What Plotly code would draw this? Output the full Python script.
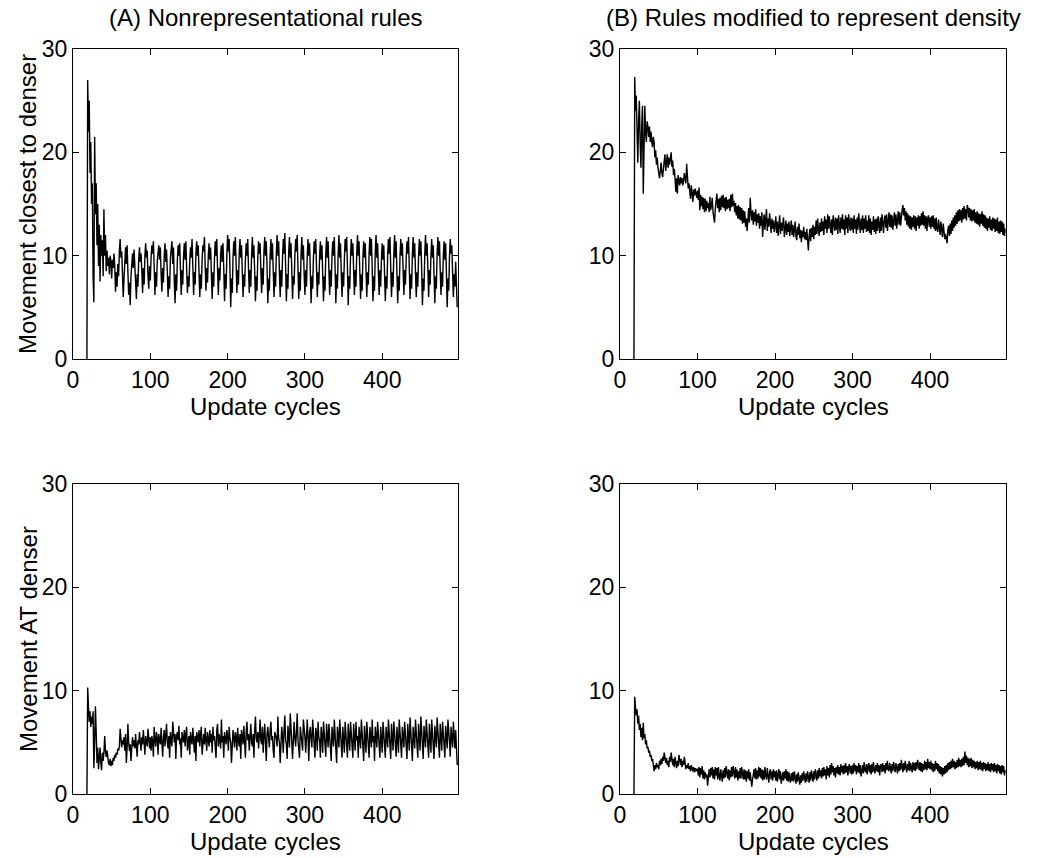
import plotly.graph_objects as go

# ---------------- data (one value per update cycle, from cycle 18) ----------------
cycles = list(range(18, 498))

closest_nonrep = [
    0, 27,
    22, 25, 18, 21, 15, 17, 8, 5.5, 21.5, 14, 17, 11, 15, 9, 13, 7.5, 12, 10, 11.5, 8,
    14.5, 10, 12, 8.5, 10.5, 9, 9.8, 8.2, 10, 9.5, 7.8, 9.6, 8.8, 10.2, 9, 6.5, 8.4, 7, 9.2, 8,
    10.5, 11.6, 9.8, 10.4, 8.2, 6, 7.8, 9.5, 10.8, 9.2, 11, 8.5, 6.2, 7.4, 5.2, 8, 9.6, 10.2, 8.8, 10.6,
    9, 7.5, 5.8, 8.2, 7, 9.6, 10.8, 9.4, 10.2, 8.6, 6.4, 8.8, 7.2, 10, 11.2, 9.8, 10.5, 8, 6.8, 9,
    7.6, 9.8, 11, 10.2, 11.4, 9, 6.2, 8.4, 7, 9.5, 10.4, 11, 9.6, 10.8, 8.2, 6.5, 8.8, 7.4, 10, 11.2,
    9.4, 10.6, 8.4, 6, 8, 6.8, 9.8, 10.6, 11.4, 9.2, 10.8, 7.6, 5.4, 8.2, 6.6, 9.6, 11, 10, 11.2, 8.6,
    6.2, 8.6, 7.2, 10, 11.2, 9.6, 11.4, 8.8, 6.4, 8, 7, 9.4, 10.8, 9.8, 11.6, 9, 6.2, 8.4, 7.2, 10.2,
    11.4, 10, 11, 8.4, 6, 8.2, 6.8, 9.6, 11, 10.4, 11.8, 9, 6.6, 8.8, 7.4, 10, 11.2, 9.6, 10.8, 8.2,
    5.8, 8.4, 7, 9.8, 11.4, 10, 11.6, 8.6, 6.2, 8.8, 7.6, 10.2, 11, 9.4, 11.2, 8.8, 5.6, 8.2, 6.8, 10,
    12, 10.4, 11.6, 8.8, 5, 7.8, 6.4, 9.8, 11.4, 10, 11.8, 9.2, 6.4, 8.6, 7.2, 10.2, 11.6, 9.8, 11, 8.4,
    6, 8.2, 7, 9.6, 11.2, 10, 11.6, 8.8, 6.4, 8.6, 7, 10, 11.8, 9.8, 11, 8.4, 5.6, 8, 6.6, 9.8,
    11.4, 10.2, 11.2, 8.6, 6.4, 8.8, 7.2, 10.4, 11.8, 10, 11.4, 8.8, 5.4, 7.8, 6.6, 10, 11.6, 9.6, 11.2, 8.6,
    6, 8.4, 7, 10.2, 12, 10, 11.4, 8.4, 6, 8.6, 7, 9.8, 11.6, 10.2, 12.2, 9, 5.6, 8.2, 6.8, 10.4,
    11.8, 9.8, 11.2, 8.6, 5.8, 8, 7.2, 10, 11.6, 10.4, 12, 8.8, 5.8, 8.4, 6.6, 10.2, 11.8, 9.6, 11, 8.2,
    6.2, 8.6, 7, 10, 11.6, 10, 11.2, 8.4, 5.4, 8, 6.8, 9.8, 11.4, 10.2, 11.6, 8.8, 6, 8.4, 7.2, 10,
    11.4, 9.6, 11, 8.2, 5.6, 8, 6.6, 10.2, 11.8, 9.8, 11.4, 8.6, 6.2, 8.6, 7, 10, 11.4, 10, 11.8, 8.8,
    5.4, 8.2, 6.8, 10.2, 12, 9.8, 11.2, 8.4, 6, 8.4, 7, 9.6, 11.6, 10.4, 11.8, 8.8, 5.2, 8, 6.8, 10,
    11.6, 10, 11.2, 8.6, 6.2, 8.6, 7, 10.2, 12, 10, 11.4, 8.4, 5.8, 8.2, 6.6, 9.8, 11.4, 9.8, 11.2, 8.6,
    6, 8.4, 7.2, 10.2, 11.8, 10, 11.6, 8.8, 5.6, 8, 6.6, 10.4, 12, 9.8, 11.2, 8.4, 6.2, 8.6, 7, 9.8,
    11.2, 9.6, 11, 8.2, 5.6, 8, 6.8, 10, 11.6, 10.2, 11.8, 8.8, 6, 8.4, 7, 10.2, 12, 9.8, 11.4, 8.4,
    5.4, 8, 6.6, 10, 11.6, 10, 11.2, 8.6, 6.2, 8.6, 7.2, 9.8, 11.4, 10.2, 11.8, 8.8, 5.8, 8.2, 6.8, 10.2,
    11.8, 9.8, 11.2, 8.4, 6, 8.4, 7, 10, 11.6, 10, 11.4, 8.6, 5.2, 7.8, 6.6, 10.2, 12, 10, 11.2, 8.8,
    6, 8.6, 7.2, 10, 11.6, 9.8, 11, 8.2, 5.4, 8, 6.8, 10.2, 11.8, 10, 11.4, 8.6, 6.2, 8.4, 7, 10,
    11.4, 9.6, 11.2, 8.4, 5, 7.8, 6.6, 10, 11.6, 10.2, 11, 8.4, 6, 8.2, 7, 9.4, 6.5, 5,
]

at_nonrep = [
    0, 10.3,
    8.5, 7, 8, 6.5, 7.5, 6.8, 8, 2.5, 5, 8.5, 6, 3, 4.5, 2.4, 3.5, 4.5, 3, 2.3, 4, 3.2,
    4, 5.6, 4.2, 3.6, 4.2, 3.2, 3, 2.8, 3.4, 2.7, 3.2, 2.8, 3.5, 3.2, 3.8, 3.5, 4, 3.8, 4.4, 4.2,
    4.6, 6.3, 5, 4.5, 5.2, 4.8, 5.5, 4.2, 5.8, 3, 4.5, 6.8, 5, 4.2, 4.8, 3.2, 4.4, 5.5, 4.6, 5.2,
    4.4, 5.8, 4.6, 3.6, 5.2, 4.8, 6, 5, 4.2, 5.5, 4.8, 6.2, 4.4, 3.8, 5.6, 5, 4.6, 6.3, 5.2, 4.4,
    5.5, 4.2, 5.6, 5, 3.6, 6.5, 5.2, 4.6, 6, 5.4, 3.8, 5.8, 5.2, 4.8, 6.4, 5, 3.6, 5.4, 6.2, 4.6,
    5.8, 6.8, 5, 4.4, 5.6, 3.5, 6, 5.2, 4.6, 7, 5.4, 5, 5.8, 3.4, 5.6, 6, 5.2, 6.6, 4.8, 5.4,
    3.5, 6, 5.4, 5, 6.2, 4.6, 5.8, 6.5, 4.2, 5.4, 5.6, 3.8, 6, 5.2, 4.8, 6.4, 5.2, 4, 5.6, 3.2,
    6, 5.4, 5, 6.2, 4.6, 5.8, 6.5, 3.8, 5.4, 5.8, 4.8, 6.4, 5.2, 4.2, 6, 5.4, 4.6, 6.2, 5, 5.8,
    4, 6.5, 5.2, 5.6, 4.8, 3.5, 6.2, 6.8, 4.6, 5.8, 5.2, 4.4, 7.2, 5, 5.6, 3.5, 6, 5.4, 4.8, 6.2,
    5.6, 4.2, 6.5, 5.4, 5, 3, 5.8, 6.2, 5.4, 4.5, 6, 5.5, 4.2, 6.4, 5.2, 4.6, 5.8, 3.4, 6.2, 5.6,
    4.8, 6.6, 5.4, 3.5, 6, 7, 5.2, 5.8, 4.2, 5.6, 6.8, 5, 4.6, 5.8, 3.5, 6.2, 7.5, 5.4, 5, 6,
    4.4, 5.6, 7.2, 5.2, 4.8, 6.5, 4, 5.6, 6.8, 5, 3.2, 5.8, 6.5, 5.4, 4.5, 6.2, 7, 5.2, 5.6, 4.2,
    3.5, 6, 5.8, 5.4, 4.6, 7.5, 5.4, 5, 3, 5.8, 6.5, 5.6, 4, 6.2, 7.6, 5.2, 4.8, 3.4, 6.6, 5.6,
    4.5, 7.8, 5.6, 5, 3.4, 6.2, 7, 5.4, 4.6, 6, 7.8, 5.2, 4.4, 3.5, 6.5, 5.8, 5, 4.2, 7.2, 5.6,
    5.5, 4, 6.8, 7.2, 5.4, 3.2, 6, 6.5, 5.2, 4.5, 7.2, 5.6, 5, 3.5, 6.4, 5.8, 4.2, 7, 5.4, 5.2,
    3.5, 6.5, 5.6, 4, 7, 6, 5.2, 3.6, 6.8, 5.6, 4.5, 6.8, 5.2, 5, 3.2, 6.5, 5.6, 4.6, 7.2, 5.4,
    5, 3, 6.5, 5.8, 4.5, 7.2, 5.6, 5, 3.5, 6.5, 5.4, 4, 7, 5.6, 5.2, 3.5, 6.8, 5.4, 4.2, 7,
    5.4, 5, 3.5, 6.8, 5.6, 4.2, 7, 5.2, 5.6, 3.5, 6.5, 5.4, 4.4, 7.2, 5.4, 5, 3.2, 6.6, 5.6, 4,
    7, 5.6, 5.2, 3.5, 6.5, 5.4, 4.5, 7.2, 5, 5.6, 3.2, 6.5, 5.6, 4.5, 7, 5.4, 5, 3.5, 6.5, 5.2,
    4, 7, 5.6, 5.2, 3.5, 6.5, 5.4, 4.5, 7.2, 5.4, 5, 3.4, 6.8, 5.6, 4.2, 7, 5.5, 5.2, 3.6, 6.5,
    5.4, 4, 7.2, 5.5, 5, 3.5, 6.5, 5.6, 4.5, 7, 5.4, 5.2, 3.4, 6.8, 5.5, 4.2, 7.4, 5.6, 5, 3.2,
    6.5, 5.6, 4.4, 7.2, 5.5, 5, 3.5, 6.8, 5.4, 4.2, 7.5, 5.6, 5.2, 3.4, 6.6, 5.5, 4.5, 7.2, 5.4, 5,
    3.5, 6.8, 5.6, 4, 7.2, 5.5, 5, 3.4, 6.6, 5.4, 4.5, 7.4, 5.6, 5.2, 3.5, 6.8, 5.4, 4.2, 7, 5.5,
    5.2, 3.5, 6.6, 5.6, 4.4, 7.2, 5.4, 5, 3.6, 6.5, 5.5, 4.5, 7, 5.2, 4.4, 6.2, 3.5, 2.8,
]

closest_density = [
    0, 27.3,
    24, 25.5, 22, 19, 23, 25, 21, 18.5, 22.5, 24.5, 16, 21, 24.5, 22, 21, 23, 22.5, 21.5, 22.5, 21,
    22, 21, 20.5, 21.5, 21, 19.5, 20.2, 18.8, 19.5, 18.5, 18, 17.5, 18.2, 19, 18, 17.6, 18.4, 19.5, 19.8, 18.2,
    19, 19.8, 18.5, 19.5, 18.8, 19.5, 20, 18.6, 19.2, 17.8, 18.4, 17.5, 16.2, 17.5, 16, 17.8, 17.2, 16.8, 17.6, 17,
    17.5, 16.8, 17.2, 18, 17.4, 17, 18.9, 17.2, 16.5, 17, 16.2, 15.5, 16.8, 16, 15.2, 16.4, 15.8, 16.5, 16, 15.6,
    16.3, 15.4, 16.6, 14.4, 15.9, 14.8, 15.7, 14.5, 15.6, 14.2, 15.5, 14.3, 15.3, 14.6, 15.1, 14.2, 15.7, 14.4, 14.9, 15.6,
    14.2, 13.4, 13.2, 14.6, 15.3, 16, 14.6, 15.5, 14.2, 15.6, 14.4, 15.8, 14.7, 15.9, 14.6, 15.6, 14.3, 15.7, 14.5, 15.4,
    14.6, 15.5, 14.3, 15.9, 14.7, 16, 14.8, 15.3, 14.2, 15.1, 13.9, 14.8, 13.6, 14.9, 13.5, 14.7, 13.4, 14.6, 13.1, 14.4,
    13.2, 14.3, 12.8, 13.6, 12.4, 13.7, 14.6, 13.2, 15.6, 14.2, 13.4, 14.4, 13, 14.2, 13.3, 14.5, 12.9, 14, 13.2, 14.1,
    12.6, 13.8, 12.9, 14.2, 11.8, 13.2, 14, 12.5, 13.5, 14.5, 12.4, 13.6, 12.8, 14.1, 13.2, 12.2, 13.6, 12.6, 13.4, 12.3,
    12.9, 13.8, 12.2, 13.3, 11.9, 13, 13.9, 12.1, 13.2, 12.4, 13, 13.7, 11.8, 12.7, 13.4, 12, 13.1, 12.3, 13.3, 11.9,
    12.6, 13.4, 12, 13, 11.8, 12.6, 13.3, 11.9, 11.5, 12.8, 12, 13.1, 11.7, 12.5, 11.3, 12.4, 11.8, 12.8, 11.6, 12.3,
    11.5, 12.6, 11.2, 10.5, 11.9, 12.6, 11.4, 12.7, 11.8, 13, 11.6, 12.8, 12, 13.4, 12.1, 13.6, 12.5, 11.9, 13.2, 12.3,
    13.6, 12.4, 13.3, 12, 13.8, 12.6, 13.5, 12.2, 14, 12.6, 13.8, 12.8, 12.2, 13.5, 12, 13.9, 12.8, 12.4, 13.7, 12.5,
    13.6, 12.1, 13.9, 12.8, 12.2, 13.7, 12.6, 14, 12.5, 13.5, 12, 13.9, 12.6, 13.7, 12.2, 14, 12.8, 12.4, 13.7, 12.5,
    13.6, 12.2, 13.9, 12.6, 13.5, 12.1, 13.7, 12.5, 14.1, 12.8, 12.2, 13.6, 12.5, 13.9, 12.2, 13.6, 12.6, 13.9, 12.3, 13.4,
    12.4, 13.9, 12.2, 13.6, 12, 13.3, 12.5, 13.8, 12.3, 13.5, 12.1, 13.6, 12.4, 13.8, 12.8, 12.2, 13.7, 12.4, 14, 12.7,
    12.2, 13.6, 13.9, 12.7, 14, 12.4, 13.8, 14.2, 12.8, 14, 12.7, 13.9, 12.5, 13.8, 14.2, 12.9, 14, 12.6, 13.8, 14.3,
    13, 14.2, 12.9, 14, 14.4, 14.9, 13.9, 14.6, 13.4, 14.3, 13, 14.1, 12.8, 13.9, 12.6, 13.8, 12.5, 13.7, 12.8, 13.9,
    12.6, 13.8, 12.4, 13.7, 12.9, 13.9, 12.6, 13.8, 12.9, 14.1, 13, 14.3, 12.9, 13.9, 12.6, 13.8, 12.4, 13.6, 13.9, 12.8,
    13.7, 12.6, 13.8, 12.8, 13.9, 12.6, 13.6, 12.4, 13.7, 12.6, 12.3, 13.5, 12.4, 12, 13.3, 12.2, 11.8, 13.1, 12, 11.6,
    12.1, 11.4, 11.2, 12.5, 12.9, 11.9, 13.1, 12.1, 13.4, 12.4, 13.7, 12.7, 13.9, 12.9, 14.2, 13.1, 14.4, 13.3, 14.5, 13.4,
    14.4, 13.2, 14.6, 13.5, 14.8, 13.6, 14.5, 13.4, 14.9, 14.6, 13.7, 14.6, 13.4, 14.5, 13.3, 14.4, 13.4, 14.5, 13.2, 14.2,
    13.1, 14.3, 13, 14.1, 12.8, 14, 13.1, 14.3, 12.9, 14, 12.7, 13.9, 12.6, 13.7, 12.4, 13.6, 12.7, 13.8, 12.5, 13.5,
    12.4, 13.7, 12.6, 13.6, 12.3, 13.5, 12.4, 13.7, 12.2, 13.3, 12.1, 13.4, 12.3, 13.3, 12, 13.1, 11.9, 12.6,
]

at_density = [
    0, 9.4,
    8.4, 7.6, 8.2, 6.8, 7.6, 6.2, 6.8, 5.5, 6.4, 5.2, 6.9, 5.4, 5.8, 4.8, 5.2, 4.4, 4.6, 4, 4.2, 3.6,
    3.8, 3.2, 3.4, 2.6, 2.2, 2.8, 2.4, 3, 2.6, 2.8, 2.4, 3.2, 2.8, 3.4, 2.9, 3.6, 3.2, 4, 3.3, 3,
    3.5, 2.8, 3.2, 2.6, 3.6, 3.1, 4, 3.2, 2.8, 3.4, 2.6, 3.6, 3, 2.5, 3.2, 2.7, 3.8, 3.2, 2.8, 3.4,
    2.6, 3.2, 2.8, 3.6, 2.9, 2.4, 2.8, 2.5, 3, 2.4, 2.7, 2.2, 2.8, 2.5, 2.2, 2.6, 2.1, 2.5, 2.2, 2.4,
    2.4, 1.8, 2.6, 1.6, 2.5, 1.9, 2.7, 1.5, 2.3, 1.4, 2.1, 1.6, 1.9, 0.8, 1.5, 2.4, 1.6, 2.5, 1.8, 2.6,
    1.5, 2.4, 1.4, 2.6, 1.8, 2.5, 1.4, 2.6, 1.7, 1.3, 2.4, 1.6, 1.2, 2.3, 1.5, 2.5, 1.6, 2.7, 1.8, 1.5,
    2.4, 1.3, 2.3, 1.6, 2.6, 1.7, 2.7, 1.8, 1.5, 2.6, 1.6, 2.4, 1.3, 2.2, 1.5, 2.5, 1.5, 2.6, 1.8, 1.4,
    2.4, 1.4, 2.3, 1.2, 2.2, 1.5, 2.4, 1.3, 2.1, 1.0, 0.7, 1.4, 2.1, 2.4, 1.5, 2.5, 1.4, 2.3, 1.5, 2.6,
    1.7, 2.5, 1.5, 2.4, 1.3, 2.3, 1.4, 2.6, 1.8, 1.4, 2.5, 1.6, 1.1, 2.1, 2.4, 1.4, 2.2, 1.3, 2.4, 1.6,
    2.2, 1.3, 2.3, 1.2, 2, 2.4, 1.4, 2.2, 1, 1.9, 2.1, 1.3, 2.2, 1.5, 2.4, 1.3, 2.2, 1.2, 2.1, 1.4,
    1.1, 2, 1.3, 2.1, 1.2, 2.2, 1.4, 1, 1.9, 1.2, 2.1, 1.3, 0.9, 1.8, 1.1, 2, 1.3, 2.2, 1.4, 1.1,
    2, 1.2, 2.2, 1.4, 1.1, 2.1, 1.3, 2.3, 1.5, 1.2, 2.2, 1.4, 2.4, 1.6, 1.3, 2.3, 1.5, 2.5, 1.7, 2.3,
    1.5, 2.5, 1.7, 2.6, 1.8, 2.4, 1.4, 2.7, 1.8, 2.5, 1.6, 2.8, 1.9, 3, 2.1, 2.7, 1.8, 2.5, 1.6, 2.6,
    2, 2.8, 1.9, 2.6, 1.8, 2.9, 2.1, 2.7, 1.9, 2.8, 2, 3, 2.1, 2.7, 1.8, 2.6, 2.9, 2, 2.7, 1.9,
    2.8, 2, 3, 2.2, 2.8, 1.9, 2.7, 2.1, 3, 2, 2.8, 1.7, 2.6, 2.8, 2, 3.1, 2.3, 2.1, 2.9, 1.9,
    2.7, 3, 2.1, 2.8, 1.9, 2.9, 2.1, 3.1, 2.3, 2, 2.8, 2.2, 3, 2.1, 2.8, 1.8, 2.7, 2.9, 2.1, 3,
    2.2, 2.8, 2, 3, 2.3, 3.2, 2.4, 2.2, 3, 2.3, 2, 2.9, 2.2, 3.1, 2.4, 2.1, 3, 2.3, 2, 2.9,
    2.2, 3, 2.3, 3.3, 2.4, 2.1, 3, 2.3, 3.2, 2.4, 2.1, 2.9, 2.3, 3.2, 2.2, 3, 2.4, 2.1, 3.1, 2.3,
    3, 2.2, 3.1, 2.4, 3.3, 2.5, 2.3, 3.1, 2.2, 3, 2.1, 2.9, 2.3, 3.2, 2.4, 3.1, 2.3, 3.4, 2.5, 3.1,
    2.4, 3.2, 2.3, 3, 2.1, 2.9, 2.2, 3.2, 2.4, 3, 2.2, 2.9, 2, 2.7, 1.9, 2.6, 1.7, 2.5, 1.9, 2.7,
    2, 2.8, 2.1, 3, 2.3, 3.1, 2.4, 3.2, 2.5, 3.4, 2.6, 3.2, 2.4, 3.1, 2.5, 3.3, 2.6, 3.5, 2.7, 3.3,
    2.6, 3.4, 2.7, 3.6, 2.8, 4.1, 3, 3.7, 2.8, 3.5, 2.6, 3.4, 2.7, 3.5, 2.5, 3.3, 2.6, 3.2, 2.4, 3.1,
    2.5, 3.2, 2.3, 3.1, 2.4, 3.2, 2.3, 3, 2.2, 3.1, 2.4, 3, 2.2, 2.9, 2.3, 3.1, 2.2, 2.9, 2.1, 3,
    2.3, 2.9, 2.1, 3, 2.2, 2.8, 2, 2.9, 2.2, 2.8, 2, 2.7, 1.9, 2.8, 2.1, 2.7, 1.8, 2.3,
]

x_ticks = [0, 100, 200, 300, 400]
y_ticks = [0, 10, 20, 30]
x_title = "Update cycles"
y_titles = ["Movement closest to denser", "Movement AT denser"]
panel_titles = ["(A) Nonrepresentational rules", "(B) Rules modified to represent density"]

# ---------------- figure ----------------
W, H = 1043, 858
FONT = "Liberation Sans, Arial, Helvetica, sans-serif"
TXT = dict(family=FONT, size=24, color="black")
TICK = dict(family=FONT, size=23, color="black")

series = [
    (closest_nonrep, "x", "y"),
    (closest_density, "x2", "y2"),
    (at_nonrep, "x3", "y3"),
    (at_density, "x4", "y4"),
]

fig = go.Figure()
for vals, xa, ya in series:
    fig.add_trace(go.Scatter(
        x=cycles[:len(vals)], y=vals, mode="lines",
        line=dict(color="black", width=1.4),
        xaxis=xa, yaxis=ya, showlegend=False, hoverinfo="skip",
    ))

colA = [73 / W, 458 / W]
colB = [620 / W, 1006 / W]
rowTop = [1 - 359 / H, 1 - 49 / H]
rowBot = [1 - 794 / H, 1 - 484 / H]

def xax(domain, anchor):
    return dict(
        domain=domain, anchor=anchor, range=[0, 498], automargin=False,
        tickvals=x_ticks, ticks="inside", ticklen=6, tickwidth=1, tickcolor="black",
        showline=True, linecolor="black", linewidth=1.3, mirror="ticks",
        showgrid=False, zeroline=False, tickfont=TICK,
    )

def yax(domain, anchor):
    return dict(
        domain=domain, anchor=anchor, range=[0, 30], automargin=False,
        tickvals=y_ticks, ticks="inside", ticklen=6, tickwidth=1, tickcolor="black",
        showline=True, linecolor="black", linewidth=1.3, mirror="ticks",
        showgrid=False, zeroline=False, tickfont=TICK,
    )

def ann(text, xpx, ypx, angle=0):
    return dict(text=text, x=xpx / W, y=1 - ypx / H, xref="paper", yref="paper",
                showarrow=False, xanchor="center", yanchor="middle", textangle=angle, font=TXT)

cA = (73 + 458) / 2
cB = (620 + 1006) / 2
annotations = [
    ann(panel_titles[0], cA, 17),
    ann(panel_titles[1], cB, 17),
    ann(x_title, cA, 406), ann(x_title, cB, 406),
    ann(x_title, cA, 841), ann(x_title, cB, 841),
    ann(y_titles[0], 28, 204, -90),
    ann(y_titles[1], 28, 639, -90),
]

fig.update_layout(
    width=W, height=H,
    margin=dict(l=0, r=0, t=0, b=0),
    paper_bgcolor="white", plot_bgcolor="white",
    xaxis=xax(colA, "y"), yaxis=yax(rowTop, "x"),
    xaxis2=xax(colB, "y2"), yaxis2=yax(rowTop, "x2"),
    xaxis3=xax(colA, "y3"), yaxis3=yax(rowBot, "x3"),
    xaxis4=xax(colB, "y4"), yaxis4=yax(rowBot, "x4"),
    annotations=annotations,
)

fig.write_html(
    "out.html",
    config={"displayModeBar": False},
    post_script="document.body.style.margin='0';document.body.style.overflow='hidden';",
)
